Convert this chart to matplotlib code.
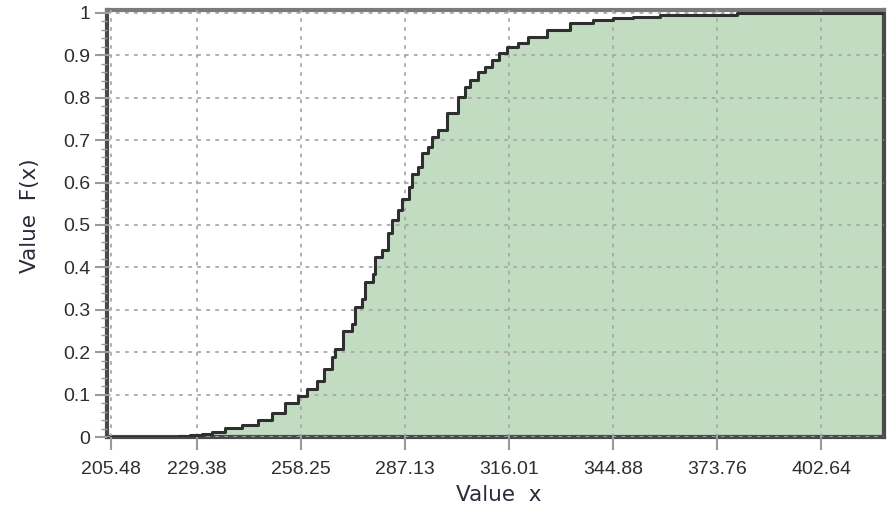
import matplotlib
matplotlib.use("Agg")
import matplotlib.pyplot as plt
from matplotlib.ticker import MultipleLocator

x_vals = [205.48, 224.5, 227.5, 230.7, 233.4, 237.2, 241.8, 246.4, 250.1, 253.8,
          257.5, 259.8, 262.6, 264.5, 266.8, 267.7, 270.0, 272.3, 273.2, 275.1,
          276.0, 278.3, 278.8, 280.7, 282.5, 283.4, 285.3, 286.2, 288.1, 289.0,
          290.8, 291.8, 293.6, 294.5, 296.4, 298.7, 301.9, 303.8, 305.2, 307.5,
          309.3, 311.2, 313.1, 315.4, 318.6, 321.4, 326.5, 332.9, 339.3, 344.9,
          350.4, 357.9, 379.3, 420.5]
f_vals = [0.000, 0.002, 0.004, 0.007, 0.011, 0.021, 0.028, 0.040, 0.056, 0.080,
          0.096, 0.113, 0.133, 0.161, 0.188, 0.208, 0.251, 0.267, 0.306, 0.326,
          0.365, 0.385, 0.424, 0.440, 0.480, 0.511, 0.535, 0.562, 0.590, 0.621,
          0.637, 0.669, 0.684, 0.708, 0.724, 0.763, 0.802, 0.826, 0.842, 0.861,
          0.873, 0.889, 0.905, 0.920, 0.928, 0.944, 0.960, 0.976, 0.983, 0.988,
          0.991, 0.995, 1.000, 1.000]

x_ticks = [205.48, 229.38, 258.25, 287.13, 316.01, 344.88, 373.76, 402.64]
x_tick_labels = ["205.48", "229.38", "258.25", "287.13", "316.01", "344.88", "373.76", "402.64"]
y_ticks = [0, 0.1, 0.2, 0.3, 0.4, 0.5, 0.6, 0.7, 0.8, 0.9, 1]
y_tick_labels = ["0", "0.1", "0.2", "0.3", "0.4", "0.5", "0.6", "0.7", "0.8", "0.9", "1"]

plt.rcParams['font.family'] = ['Liberation Sans', 'DejaVu Sans']

fig = plt.figure(figsize=(8.93, 5.08), dpi=100)
ax = fig.add_axes([107/893, 1 - 437/508, (884 - 107)/893, (437 - 10)/508])

ax.fill_between(x_vals, f_vals, 0, step='post', color='#c1dcc0', linewidth=0, zorder=1)
ax.plot(x_vals, f_vals, drawstyle='steps-post', color='#2f2f2f', linewidth=2.2, zorder=3)

ax.set_xlim(204.37, 420.12)
ax.set_ylim(0, 1.007)

ax.set_xticks(x_ticks)
ax.set_xticklabels(x_tick_labels)
ax.set_yticks(y_ticks)
ax.set_yticklabels(y_tick_labels)
ax.yaxis.set_minor_locator(MultipleLocator(0.02))

ax.grid(True, which='major', color='#a8a8a8', linestyle=(0, (2, 3)), linewidth=1.3, zorder=2)
ax.set_axisbelow(False)

ax.tick_params(axis='both', which='major', colors='#9a9a9a', labelcolor='#2e2e2e',
               labelsize=14, length=9, width=1.5)
ax.tick_params(axis='x', which='major', pad=8)
ax.tick_params(axis='y', which='major', pad=3)
ax.tick_params(axis='y', which='minor', colors='#9a9a9a', length=4, width=1)

for side in ['left', 'bottom', 'right', 'top']:
    ax.spines[side].set_linewidth(3)
    ax.spines[side].set_color('#4a4a4a')
ax.spines['top'].set_color('#7a7a7a')

fig.text(499/893, 1 - 495/508, "Value  x", ha='center', va='center',
         fontsize=15.5, color='#2a2a3a', family=['DejaVu Sans'])
fig.text(30/893, 1 - 216/508, "Value  F(x)", ha='center', va='center',
         rotation=90, fontsize=15.5, color='#2a2a3a', family=['DejaVu Sans'])

fig.savefig("out.png", dpi=100)
